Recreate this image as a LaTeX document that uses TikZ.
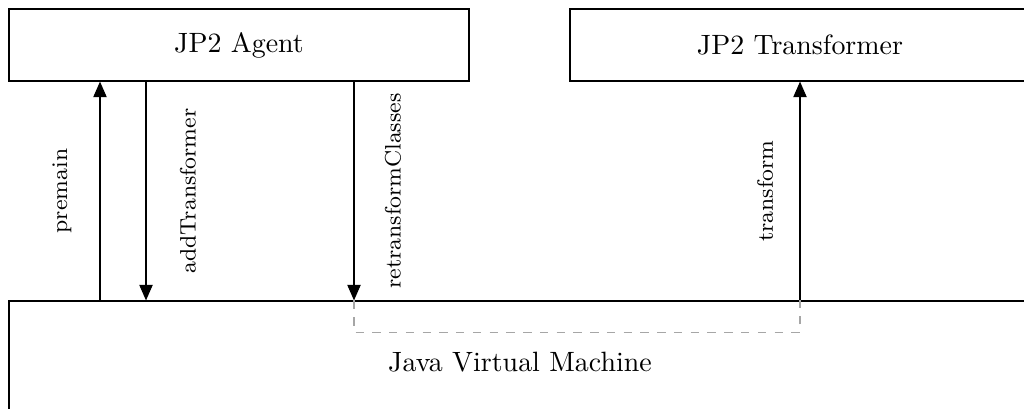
\documentclass[tikz,border=0pt]{standalone}
\usetikzlibrary{arrows.meta}
\begin{document}
\begin{tikzpicture}[x=0.358pt, y=-0.358pt,
	box/.style = {draw, thin, inner sep=0pt, minimum width=164.7pt, minimum height=25.8pt},
	call/.style = {-{Triangle[length=5.6pt, width=4.8pt]}},
	lbl/.style = {font=\footnotesize, rotate=90}]

	\clip (0,0) rectangle (1024,408);

	% Boxes
	\node [box] (agent) at (239,45) {JP2 Agent};
	\node [box] (trans) at (800,45) {JP2 Transformer};
	\node [box, minimum width=365.9pt, minimum height=43.7pt] (jvm) at (520,362) {Java Virtual Machine};

	% Call points
	\coordinate (premain)   at (100,0);
	\coordinate (addtrans)  at (146,0);
	\coordinate (retrans)   at (354,0);
	\coordinate (transform) at (800,0);

	% Calls
	\draw [call] (premain |- jvm.north) -- (premain |- agent.south)
	node [midway, xshift=-13.6pt, lbl] {premain};
	\draw [call] (addtrans |- agent.south) -- (addtrans |- jvm.north)
	node [midway, xshift=15pt, lbl] {addTransformer};
	\draw [call] (retrans |- agent.south) -- (retrans |- jvm.north)
	node [midway, xshift=14pt, lbl] {retransformClasses};
	\draw [call] (transform |- jvm.north) -- (transform |- trans.south)
	node [midway, xshift=-12.5pt, lbl] {transform};

	% Inside the JVM
	\draw [dashed, gray!70] (retrans |- jvm.north) -- ++(0,32) -| (transform |- jvm.north);

\end{tikzpicture}
\end{document}
